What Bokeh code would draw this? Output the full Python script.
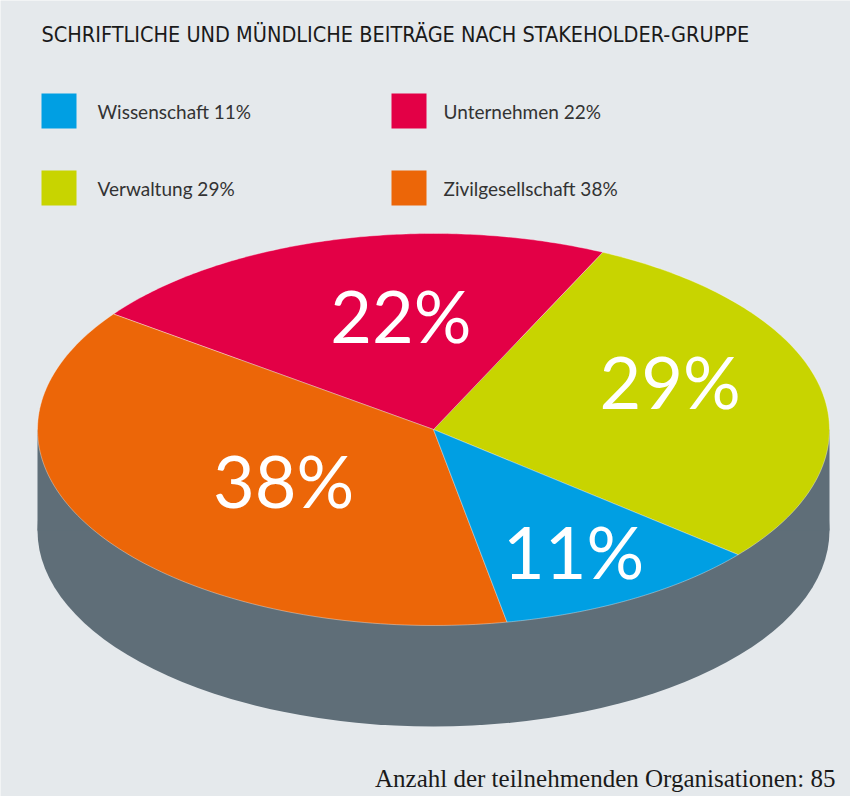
import numpy as np
from bokeh.plotting import figure
from bokeh.models import Range1d
from bokeh.embed import file_html
from bokeh.resources import INLINE
from bokeh.core.properties import value

# ---- data ----
categories = ["Wissenschaft", "Unternehmen", "Verwaltung", "Zivilgesellschaft"]
shares = [11, 22, 29, 38]
colors = ["#009fe3", "#e30046", "#c8d400", "#ec6608"]
pie_order = ["Verwaltung", "Unternehmen", "Zivilgesellschaft", "Wissenschaft"]
title_text = "SCHRIFTLICHE UND MÜNDLICHE BEITRÄGE NACH STAKEHOLDER-GRUPPE"
footer_text = "Anzahl der teilnehmenden Organisationen: 85"

# ---- layout / style ----
BG = "#e5e9ec"
SIDE = "#5f6e78"
W, H = 850, 796
CX, CY, RX, RY, DEPTH = 433, 367, 396, 196, 101
START = -39.7  # degrees, counterclockwise
SANS = "DejaVu Sans Condensed"
LBL = "Lato"
LABEL_NUDGE = 4
label_r = {"Verwaltung": 0.64, "Unternehmen": 0.57, "Zivilgesellschaft": 0.47, "Wissenschaft": 0.73}
label_da = {"Verwaltung": 8.5, "Unternehmen": -6.0, "Zivilgesellschaft": 4.0, "Wissenschaft": -1.5}

p = figure(width=W, height=H, x_range=Range1d(0, W), y_range=Range1d(0, H),
           output_backend="svg", toolbar_location=None, min_border=0,
           x_axis_location=None, y_axis_location=None,
           background_fill_color=BG, border_fill_color=BG, outline_line_color=None)
p.grid.visible = False

# side of the 3D pie
p.ellipse(x=[CX], y=[CY - DEPTH], width=[2 * RX], height=[2 * RY], fill_color=SIDE, line_color=None)
p.rect(x=[CX], y=[CY - DEPTH / 2], width=[2 * RX], height=[DEPTH], fill_color=SIDE, line_color=None)

share_of = dict(zip(categories, shares))
color_of = dict(zip(categories, colors))

xs, ys, fc = [], [], []
lx, ly, lt = [], [], []
a = START
for cat in pie_order:
    span = share_of[cat] / 100 * 360
    t = np.radians(np.linspace(a, a + span, 120))
    xs.append(np.concatenate([[CX], CX + RX * np.cos(t)]))
    ys.append(np.concatenate([[CY], CY + RY * np.sin(t)]))
    fc.append(color_of[cat])
    mid = np.radians(a + span / 2 + label_da[cat])
    lx.append(CX + RX * label_r[cat] * np.cos(mid))
    ly.append(CY + RY * label_r[cat] * np.sin(mid) + LABEL_NUDGE)
    lt.append(f"{share_of[cat]}%")
    a += span

p.patches(xs=xs, ys=ys, fill_color=fc, line_color="white", line_width=0.6, line_alpha=0.6)

p.text(x=lx, y=ly, text=lt, text_color="white", text_font=value(LBL),
       text_font_size="72px", text_align="center", text_baseline="middle")

# title
p.text(x=[41], y=[762.5], text=[title_text], text_color="#1a1a1a", text_font=value(SANS),
       text_font_size="21.5px", text_align="left", text_baseline="middle")

# legend
sq_x, sq_y, tx, tt, sc = [], [], [], [], []
for i, cat in enumerate(categories):
    col, row = i % 2, i // 2
    sq_x.append(58.5 + col * 350)
    sq_y.append(685.5 - row * 77)
    tx.append(97 + col * 346)
    tt.append(f"{cat} {share_of[cat]}%")
    sc.append(color_of[cat])
p.rect(x=sq_x, y=sq_y, width=35, height=35, fill_color=sc, line_color=None)
p.text(x=tx, y=sq_y, text=tt, text_color="#333333", text_font=value(LBL),
       text_font_size="19px", text_align="left", text_baseline="middle")

# footer
p.text(x=[835], y=[18], text=[footer_text], text_color="#1a1a1a", text_font=value("Liberation Serif"),
       text_font_size="25px", text_align="right", text_baseline="middle")

open("out.html", "w").write(file_html(p, INLINE))
